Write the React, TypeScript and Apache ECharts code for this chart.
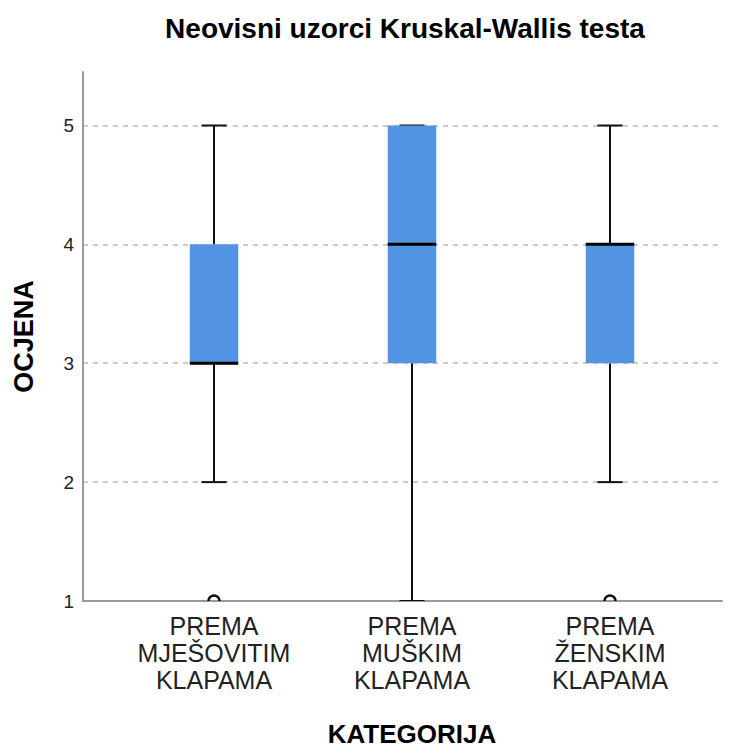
import React, { useEffect, useRef } from "react";
import * as echarts from "echarts";

const titleText = "Neovisni uzorci Kruskal-Wallis testa";
const categories = ["PREMA\nMJEŠOVITIM\nKLAPAMA", "PREMA\nMUŠKIM\nKLAPAMA", "PREMA\nŽENSKIM\nKLAPAMA"];
// [min, Q1, median, Q3, max]
const boxMin = [2, 1, 2];
const boxQ1 = [3, 3, 3];
const boxMedian = [3, 4, 4];
const boxQ3 = [4, 5, 4];
const boxMax = [5, 5, 5];
// outliers: [category index, value]
const outliers = [
  [0, 1],
  [2, 1],
];
const yTicks = [1, 2, 3, 4, 5];

export default function App() {
  const ref = useRef<HTMLDivElement>(null);
  useEffect(() => {
    if (!ref.current) return;
    const chart = echarts.init(ref.current, undefined, { renderer: "svg" });
    const boxData = categories.map((_, i) => [i, boxMin[i], boxQ1[i], boxMedian[i], boxQ3[i], boxMax[i]]);
    const font = "'Liberation Sans', Arial, sans-serif";
    const option: any = {
      animation: false,
      backgroundColor: "#fff",
      graphic: [
        {
          type: "text",
          x: 405,
          y: 28,
          style: {
            text: titleText,
            fontFamily: font,
            fontWeight: "bold",
            fontSize: 28,
            fill: "#000",
            textAlign: "center",
            textVerticalAlign: "middle",
          },
        },
      ],
      grid: [
        { left: 83, right: 15, top: 72, bottom: 148, outerBoundsMode: "none", containLabel: false },
        { left: 115, width: 594, top: 72, bottom: 148, outerBoundsMode: "none", containLabel: false },
      ],
      xAxis: [
        {
          gridIndex: 0,
          type: "value",
          min: 0,
          max: 1,
          axisLine: { show: true, lineStyle: { color: "#999", width: 2 } },
          axisTick: { show: false },
          axisLabel: { show: false },
          splitLine: { show: false },
        },
        {
          gridIndex: 1,
          type: "category",
          data: categories,
          axisLine: { show: false },
          axisTick: { show: false },
          splitLine: { show: false },
          axisLabel: {
            fontFamily: font,
            fontSize: 25,
            lineHeight: 27,
            color: "#222",
            margin: 11,
            interval: 0,
          },
          name: "KATEGORIJA",
          nameLocation: "middle",
          nameGap: 121,
          nameTextStyle: { fontFamily: font, fontWeight: "bold", fontSize: 26, lineHeight: 24, color: "#000" },
        },
      ],
      yAxis: [
        {
          gridIndex: 0,
          type: "value",
          min: 1,
          max: 5.45,
          interval: 1,
          axisLine: { show: true, lineStyle: { color: "#999", width: 2 } },
          axisTick: { show: false },
          axisLabel: {
            fontFamily: font,
            fontSize: 19,
            color: "#222",
            margin: 9,
            formatter: (v: number) => (yTicks.indexOf(v) >= 0 ? String(v) : ""),
          },
          splitLine: {
            show: true,
            showMinLine: false,
            showMaxLine: false,
            lineStyle: { color: "#bbb", type: [5, 5], width: 1.5 },
          },
          name: "OCJENA",
          nameLocation: "middle",
          nameGap: 46,
          nameTextStyle: { fontFamily: font, fontWeight: "bold", fontSize: 27, color: "#000" },
        },
        {
          gridIndex: 1,
          type: "value",
          min: 1,
          max: 5.45,
          interval: 1,
          show: false,
        },
      ],
      series: [
        {
          type: "custom",
          xAxisIndex: 1,
          yAxisIndex: 1,
          clip: true,
          data: boxData,
          renderItem: (params: any, api: any) => {
            const x = api.value(0);
            const pMin = api.coord([x, api.value(1)]);
            const pQ1 = api.coord([x, api.value(2)]);
            const pMed = api.coord([x, api.value(3)]);
            const pQ3 = api.coord([x, api.value(4)]);
            const pMax = api.coord([x, api.value(5)]);
            const band = api.size([1, 0])[0];
            const bw = band * 0.245;
            const cw = band * 0.127;
            const cx = pMin[0];
            const lineStyle = { stroke: "#111", lineWidth: 2 };
            return {
              type: "group",
              children: [
                { type: "line", shape: { x1: cx, y1: pMax[1], x2: cx, y2: pQ3[1] }, style: lineStyle },
                { type: "line", shape: { x1: cx, y1: pQ1[1], x2: cx, y2: pMin[1] }, style: lineStyle },
                { type: "line", shape: { x1: cx - cw / 2, y1: pMax[1], x2: cx + cw / 2, y2: pMax[1] }, style: lineStyle },
                { type: "line", shape: { x1: cx - cw / 2, y1: pMin[1], x2: cx + cw / 2, y2: pMin[1] }, style: lineStyle },
                {
                  type: "rect",
                  shape: { x: cx - bw / 2, y: pQ3[1], width: bw, height: pQ1[1] - pQ3[1] },
                  style: { fill: "#5293E2", stroke: null },
                },
                {
                  type: "line",
                  shape: { x1: cx - bw / 2, y1: pMed[1], x2: cx + bw / 2, y2: pMed[1] },
                  style: { stroke: "#000", lineWidth: 3 },
                },
              ],
            };
          },
        },
        {
          type: "custom",
          xAxisIndex: 1,
          yAxisIndex: 1,
          clip: true,
          data: outliers,
          renderItem: (params: any, api: any) => {
            const p = api.coord([api.value(0), api.value(1)]);
            return {
              type: "circle",
              shape: { cx: p[0], cy: p[1], r: 5.5 },
              style: { fill: "none", stroke: "#111", lineWidth: 2.5 },
            };
          },
        },
      ],
    };
    chart.setOption(option);
    return () => chart.dispose();
  }, []);
  return <div ref={ref} style={{ position: "fixed", left: 0, top: 0, width: 737, height: 749 }} />;
}
